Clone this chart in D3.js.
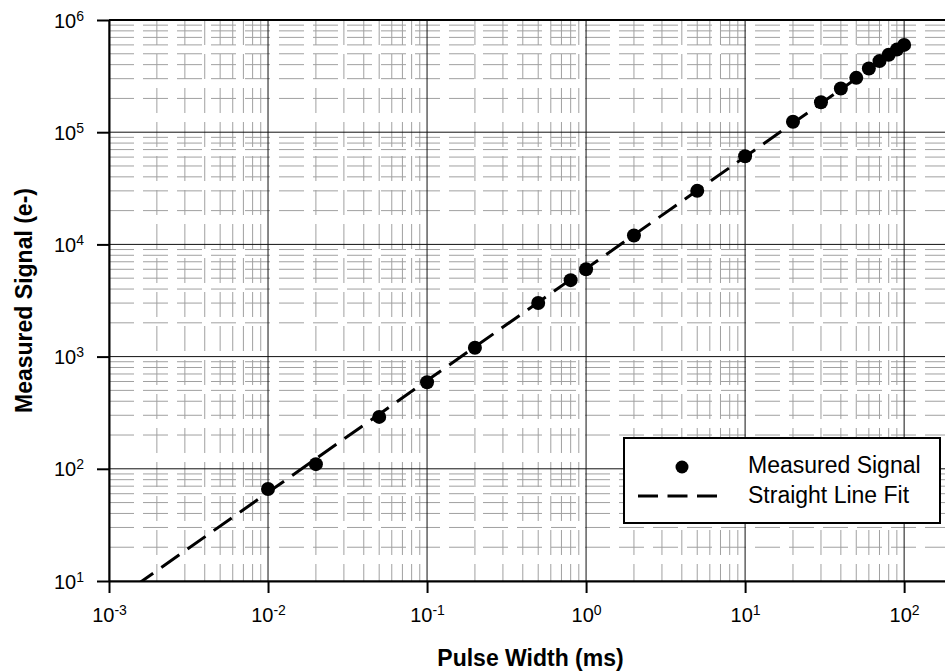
<!DOCTYPE html>
<html lang="en">
<head>
    <meta charset="UTF-8">
    <title>Pulse Width vs Measured Signal</title>
    <style>
        body { margin: 0; background: #fff; }
        text { font-family: "Liberation Sans", Arial, sans-serif; }
    </style>
</head>
<body>
<script src="https://d3js.org/d3.v7.min.js"></script>
<script>
    // measured points
    let pulseWidth = [0.01, 0.02, 0.05, 0.1, 0.2, 0.5, 0.8, 1, 2, 5, 10, 20, 30, 40, 50, 60, 70, 80, 90, 100];
    let signal = [66, 110, 290, 590, 1200, 3000, 4800, 6000, 12000, 30000, 61000, 124000, 185000, 245000, 305000, 370000, 430000, 490000, 545000, 600000];
    // straight line fit end points
    let fitX = [0.001, 100];
    let fitY = [6.2, 600000];
    let xTickExp = [-3, -2, -1, 0, 1, 2];
    let yTickExp = [1, 2, 3, 4, 5, 6];
    let legendLabels = ["Measured Signal", "Straight Line Fit"];

    let w = 945, h = 672;
    let inner = {left: 109, top: 20, right: 952, bottom: 581};

    let svg = d3.select("body")
        .append("svg")
        .attr("width", w)
        .attr("height", h);

    let x = d3.scaleLog().domain([1e-3, 200]).range([inner.left, inner.right]);
    let y = d3.scaleLog().domain([10, 1e6]).range([inner.bottom, inner.top]);

    // minor values inside each decade
    let xMinor = [], yMinor = [];
    for (let e = -3; e <= 2; ++e)
        for (let m = 2; m <= 9; ++m) {
            let v = m * Math.pow(10, e);
            if (v < 200) xMinor.push(v);
        }
    for (let e = 1; e <= 5; ++e)
        for (let m = 2; m <= 9; ++m) yMinor.push(m * Math.pow(10, e));

    let grid = svg.append("g");

    grid.selectAll(".xminor")
        .data(xMinor)
        .enter()
        .append("line")
        .attr("x1", d => x(d)).attr("x2", d => x(d))
        .attr("y1", inner.top).attr("y2", inner.bottom)
        .attr("stroke", "#a0a0a0")
        .attr("stroke-width", 1)
        .attr("stroke-dasharray", "25,9");

    grid.selectAll(".yminor")
        .data(yMinor)
        .enter()
        .append("line")
        .attr("x1", inner.left).attr("x2", inner.right)
        .attr("y1", d => y(d)).attr("y2", d => y(d))
        .attr("stroke", "#a0a0a0")
        .attr("stroke-width", 1)
        .attr("stroke-dasharray", "25,9");

    // major grid
    grid.selectAll(".xmajor")
        .data(xTickExp)
        .enter()
        .append("line")
        .attr("x1", d => x(Math.pow(10, d))).attr("x2", d => x(Math.pow(10, d)))
        .attr("y1", inner.top).attr("y2", inner.bottom)
        .attr("stroke", "#111")
        .attr("stroke-width", 1);

    grid.selectAll(".ymajor")
        .data(yTickExp)
        .enter()
        .append("line")
        .attr("x1", inner.left).attr("x2", inner.right)
        .attr("y1", d => y(Math.pow(10, d))).attr("y2", d => y(Math.pow(10, d)))
        .attr("stroke", "#111")
        .attr("stroke-width", 1);

    // axes
    function powLabel(sel, e) {
        sel.text("");
        sel.append("tspan").text("10");
        sel.append("tspan").text(e).attr("font-size", 14).attr("dy", -7);
    }

    let xAxis = svg.append("g")
        .attr("transform", "translate(0," + inner.bottom + ")")
        .call(d3.axisBottom(x).tickValues(xTickExp.map(d => Math.pow(10, d))).tickSize(12).tickSizeOuter(0));
    xAxis.select(".domain").attr("stroke-width", 2);
    xAxis.selectAll(".tick line").attr("stroke-width", 2);
    xAxis.selectAll(".tick text")
        .attr("font-size", 20)
        .attr("fill", "#000")
        .attr("font-family", "Liberation Sans, Arial, sans-serif")
        .attr("y", 41)
        .attr("dy", 0)
        .each(function (d, i) { powLabel(d3.select(this), xTickExp[i]); });

    let yAxis = svg.append("g")
        .attr("transform", "translate(" + inner.left + ",0)")
        .call(d3.axisLeft(y).tickValues(yTickExp.map(d => Math.pow(10, d))).tickSize(12).tickSizeOuter(0));
    yAxis.select(".domain").attr("stroke-width", 2);
    yAxis.selectAll(".tick line").attr("stroke-width", 2);
    yAxis.selectAll(".tick text")
        .attr("font-size", 20)
        .attr("fill", "#000")
        .attr("font-family", "Liberation Sans, Arial, sans-serif")
        .attr("x", -25)
        .attr("dy", 7)
        .each(function (d, i) { powLabel(d3.select(this), yTickExp[i]); });

    // top border
    svg.append("line")
        .attr("x1", inner.left).attr("x2", inner.right)
        .attr("y1", inner.top).attr("y2", inner.top)
        .attr("stroke", "#000").attr("stroke-width", 2);

    // clip for data
    svg.append("clipPath").attr("id", "plotclip")
        .append("rect")
        .attr("x", inner.left).attr("y", inner.top)
        .attr("width", inner.right - inner.left).attr("height", inner.bottom - inner.top);

    let line = d3.line().x(d => x(d[0])).y(d => y(d[1]));
    svg.append("path")
        .datum(d3.zip(fitX, fitY))
        .attr("clip-path", "url(#plotclip)")
        .attr("d", line)
        .attr("fill", "none")
        .attr("stroke", "#000")
        .attr("stroke-width", 3)
        .attr("stroke-dasharray", "22,10");

    svg.selectAll(".pt")
        .data(d3.zip(pulseWidth, signal))
        .enter()
        .append("circle")
        .attr("cx", d => x(d[0]))
        .attr("cy", d => y(d[1]))
        .attr("r", 7)
        .attr("fill", "#000");

    // legend
    let lg = svg.append("g").attr("transform", "translate(624,438)");
    lg.append("rect")
        .attr("width", 316).attr("height", 85)
        .attr("fill", "#fff")
        .attr("stroke", "#000").attr("stroke-width", 2);
    lg.append("circle").attr("cx", 58).attr("cy", 29).attr("r", 6.5).attr("fill", "#000");
    lg.append("line")
        .attr("x1", 14).attr("x2", 93).attr("y1", 58).attr("y2", 58)
        .attr("stroke", "#000").attr("stroke-width", 3)
        .attr("stroke-dasharray", "20,9.5");
    lg.selectAll(".lt")
        .data(legendLabels)
        .enter()
        .append("text")
        .attr("x", 124)
        .attr("y", (d, i) => 35 + i * 30)
        .attr("font-size", 23)
        .text(d => d);

    // axis titles
    svg.append("text")
        .attr("x", (inner.left + inner.right) / 2)
        .attr("y", 666)
        .attr("text-anchor", "middle")
        .attr("font-size", 23)
        .attr("font-weight", "bold")
        .text("Pulse Width (ms)");

    svg.append("text")
        .attr("transform", "translate(32," + (inner.top + inner.bottom) / 2 + ") rotate(-90)")
        .attr("text-anchor", "middle")
        .attr("font-size", 23)
        .attr("font-weight", "bold")
        .text("Measured Signal (e-)");
</script>
</body>
</html>
